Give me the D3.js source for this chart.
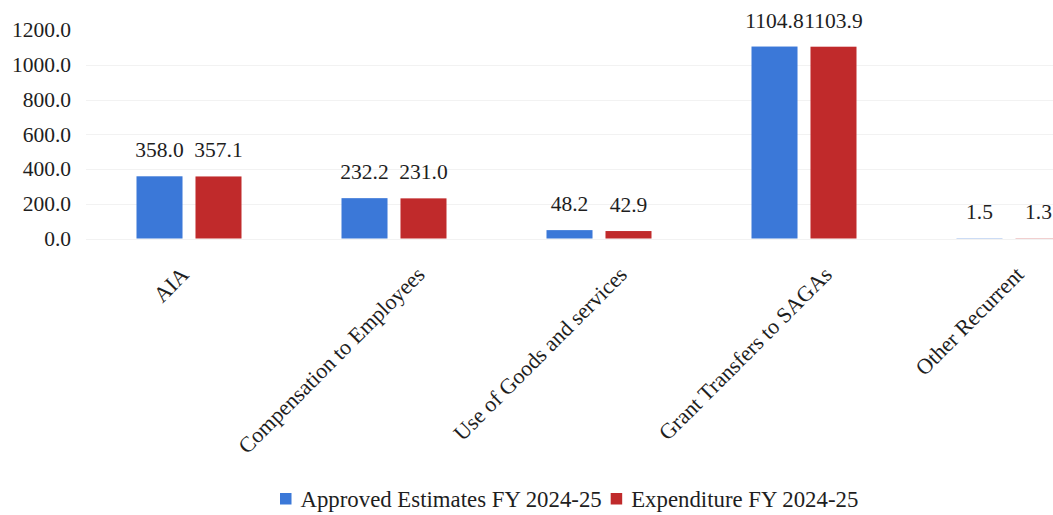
<!DOCTYPE html>
<html>
<head>
<meta charset="utf-8">
<script src="https://cdn.jsdelivr.net/npm/d3@7/dist/d3.min.js"></script>
<style>
  html, body { margin: 0; padding: 0; background: #ffffff; }
  svg { display: block; }
  svg text { font-family: "Liberation Serif", "Times New Roman", Times, serif !important; fill: #1e1e1e; }
</style>
</head>
<body>
<svg id="chart" width="1053" height="515"></svg>
<script>
const categories = ["AIA", "Compensation to Employees", "Use of Goods and services", "Grant Transfers to SAGAs", "Other Recurrent"];
const seriesNames = ["Approved Estimates FY 2024-25", "Expenditure FY 2024-25"];
const approved = [358.0, 232.2, 48.2, 1104.8, 1.5];
const expenditure = [357.1, 231.0, 42.9, 1103.9, 1.3];
const yTicks = [0, 200, 400, 600, 800, 1000, 1200];
const colors = ["#3b78d8", "#c02a2b"];

const FONT = "'Liberation Serif', 'Times New Roman', Times, serif";
const seriesValues = [approved, expenditure];
const data = categories.map((c, i) => ({
  cat: c,
  vals: seriesNames.map((s, j) => ({ series: s, value: seriesValues[j][i], idx: j }))
}));

const svg = d3.select("#chart").style("font-family", FONT);

const x0 = d3.scaleBand().domain(categories).range([86.5, 1111.5]).padding(0);
const x1 = d3.scaleBand().domain(seriesNames).range([50, 155]).paddingInner(0.22).paddingOuter(0);
const y = d3.scaleLinear().domain([0, 1200]).range([238.5, 30]);
const color = d3.scaleOrdinal().domain(seriesNames).range(colors);

// gridlines
svg.append("g")
  .selectAll("line")
  .data(yTicks.filter(t => t < 1200))
  .join("line")
  .attr("x1", 86).attr("x2", 1053)
  .attr("y1", d => Math.round(y(d)) + 0.5)
  .attr("y2", d => Math.round(y(d)) + 0.5)
  .attr("stroke", "#f2f2f2")
  .attr("stroke-width", 1);

// y axis labels
const yAxis = d3.axisLeft(y).tickValues(yTicks).tickFormat(d3.format(".1f")).tickSize(0).tickPadding(0);
const gy = svg.append("g").attr("transform", "translate(71,0)").call(yAxis)
  .attr("font-family", null).style("font-family", FONT);
gy.select(".domain").remove();
gy.selectAll("text").style("font-size", "21.5px").style("font-family", FONT).attr("fill", "#1e1e1e");

// bars
const groups = svg.append("g").selectAll("g")
  .data(data).join("g")
  .attr("transform", d => `translate(${x0(d.cat)},0)`);

groups.selectAll("rect")
  .data(d => d.vals)
  .join("rect")
  .attr("x", d => x1(d.series))
  .attr("width", x1.bandwidth())
  .attr("y", d => y(d.value))
  .attr("height", d => y(0) - y(d.value))
  .attr("fill", d => color(d.series));

groups.selectAll("text.val")
  .data(d => d.vals)
  .join("text")
  .attr("class", "val")
  .attr("x", d => x1(d.series) + x1.bandwidth() / 2)
  .attr("y", d => y(d.value) - 19)
  .attr("text-anchor", "middle")
  .style("font-family", FONT)
  .style("font-size", "21.5px")
  .text(d => d3.format(".1f")(d.value));

// x axis labels (rotated)
const xAxis = d3.axisBottom(x0).tickSize(0).tickPadding(0);
const gx = svg.append("g").attr("transform", "translate(0,276)").call(xAxis)
  .attr("font-family", null).style("font-family", FONT);
gx.select(".domain").remove();
gx.selectAll("text")
  .style("font-size", "22px")
  .style("font-family", FONT)
  .attr("fill", "#1e1e1e")
  .attr("text-anchor", "end")
  .attr("dy", 0)
  .attr("y", 0)
  .each(function() {
    const L = this.getComputedTextLength();
    const off = 0.145 * L - 4.6;
    d3.select(this).attr("transform", `translate(${off},0) rotate(-45)`);
  });

// legend
const legend = svg.append("g").attr("transform", "translate(280,0)");
let lx = 0;
seriesNames.forEach((s, i) => {
  legend.append("rect")
    .attr("x", lx).attr("y", 493)
    .attr("width", 11.5).attr("height", 11.5)
    .attr("fill", color(s));
  lx += 11.5 + 9;
  const t = legend.append("text")
    .attr("x", lx).attr("y", 507)
    .style("font-family", FONT)
    .style("font-size", "22.8px")
    .text(s);
  lx += t.node().getComputedTextLength() + 9;
});
</script>
</body>
</html>
